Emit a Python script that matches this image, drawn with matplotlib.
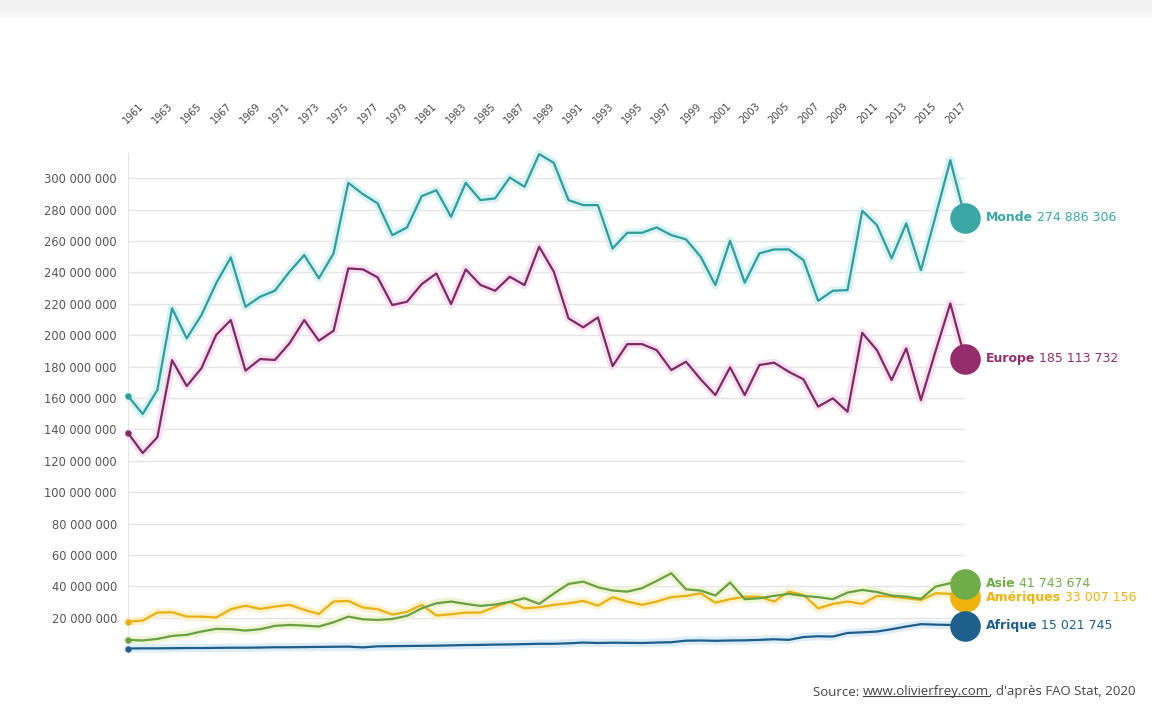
import matplotlib.pyplot as plt
from matplotlib.ticker import FuncFormatter
from matplotlib.patches import Rectangle
from matplotlib.lines import Line2D

# données (millions de tonnes), 1961 -> 2018
years = list(range(1961, 2019))

monde = [161.3, 149.8, 165.1, 217.1, 198.0, 212.8, 233.0, 249.5, 218.1, 224.5,
         228.3, 240.4, 251.0, 236.2, 252.1, 297.0, 289.8, 283.9, 263.7, 268.6,
         288.5, 292.3, 275.4, 297.0, 286.0, 287.1, 300.4, 294.5, 315.3, 309.7,
         286.0, 282.8, 282.8, 255.2, 265.2, 265.2, 268.6, 263.7, 261.0, 249.9,
         231.9, 260.1, 233.4, 252.1, 254.6, 254.6, 247.8, 221.9, 228.3, 228.7,
         279.2, 270.1, 248.9, 271.2, 241.4, 276.0, 311.4, 274.886306]

europe = [137.7, 125.0, 135.0, 184.1, 167.6, 178.9, 200.1, 209.6, 177.4, 184.8,
          184.2, 194.8, 209.6, 196.5, 202.8, 242.5, 241.9, 236.8, 219.2, 221.3,
          232.5, 239.3, 219.8, 241.9, 232.0, 228.3, 237.2, 231.9, 256.3, 240.4,
          210.7, 205.0, 211.3, 180.3, 194.3, 194.3, 190.5, 177.8, 183.1, 171.9,
          161.9, 179.5, 161.9, 181.0, 182.5, 176.7, 171.9, 154.5, 159.8, 151.3,
          201.5, 190.5, 171.4, 191.6, 158.7, 190.0, 220.2, 185.113732]

asie = [6.0, 5.6, 6.6, 8.5, 9.2, 11.3, 13.0, 12.8, 11.9, 12.8,
        14.9, 15.5, 15.1, 14.5, 17.2, 20.8, 19.1, 18.7, 19.3, 21.3,
        26.1, 29.3, 30.4, 28.9, 27.6, 28.5, 30.2, 32.5, 28.9, 35.5,
        41.6, 43.1, 39.5, 37.4, 36.7, 38.9, 43.5, 48.4, 38.2, 37.4,
        34.2, 42.5, 31.9, 32.5, 34.0, 35.3, 34.0, 33.2, 31.9, 36.1,
        37.8, 36.5, 34.2, 33.5, 32.1, 39.9, 42.1, 41.743674]

ameriques = [17.6, 18.3, 23.4, 23.6, 20.8, 20.8, 20.2, 25.5, 27.8, 25.7,
             27.2, 28.3, 25.1, 22.5, 30.4, 30.8, 26.6, 25.5, 22.1, 23.8,
             28.3, 21.5, 22.3, 23.4, 23.4, 27.0, 30.2, 26.1, 26.8, 28.3,
             29.3, 30.8, 27.8, 33.2, 30.4, 28.3, 30.4, 33.2, 34.0, 35.7,
             29.7, 31.9, 33.5, 33.5, 30.4, 36.7, 34.6, 26.1, 28.9, 30.4,
             28.9, 34.0, 33.5, 32.5, 31.4, 35.7, 35.3, 33.007156]

afrique = [0.5, 0.6, 0.6, 0.7, 0.8, 0.8, 0.9, 1.0, 1.0, 1.1,
           1.3, 1.3, 1.4, 1.5, 1.6, 1.7, 1.2, 1.9, 2.0, 2.1,
           2.2, 2.3, 2.5, 2.7, 2.8, 3.0, 3.1, 3.3, 3.5, 3.5,
           3.8, 4.3, 4.0, 4.2, 4.1, 4.0, 4.3, 4.5, 5.5, 5.6,
           5.4, 5.6, 5.7, 6.0, 6.4, 6.0, 7.8, 8.3, 8.1, 10.4,
           10.8, 11.3, 12.8, 14.5, 16.0, 15.7, 15.5, 15.021745]

# nom, valeurs, couleur ligne, halo, couleur point/texte
series = [
    ("Monde", monde, "#2f9e9c", "#d8f1f2", "#3aa7a5"),
    ("Europe", europe, "#7e2b62", "#f6dff0", "#952c6b"),
    ("Amériques", ameriques, "#e9b012", "#fcf1c8", "#f0b20c"),
    ("Asie", asie, "#6a9f43", "#edf5d4", "#70ad48"),
    ("Afrique", afrique, "#1f5d8a", "#dcedf7", "#1f5f8e"),
]

year_ticks = list(range(1961, 2018, 2))
y_ticks = list(range(20, 301, 20))


def fmt_int(v):
    return f"{int(round(v)):,}".replace(",", " ")


fig = plt.figure(figsize=(11.52, 7.11), dpi=100)
fig.patch.set_facecolor("white")

# fond type "carte"
fig.patches.append(Rectangle((0, 698 / 711), 1, 13 / 711, transform=fig.transFigure,
                             facecolor="#f1f1f1", edgecolor="none", zorder=0))
fig.patches.append(Rectangle((0, 694 / 711), 1, 4 / 711, transform=fig.transFigure,
                             facecolor="#f8f8f8", edgecolor="none", zorder=0))

ax = fig.add_axes([128 / 1152, 57 / 711, 837 / 1152, 501 / 711])
ax.set_xlim(1961, 2018)
ax.set_ylim(-3, 316)

for name, vals, lc, gc, dc in series:
    ax.plot(years, vals, color=gc, lw=6, solid_capstyle="round",
            solid_joinstyle="round", zorder=2, clip_on=False)
for name, vals, lc, gc, dc in series:
    ax.plot(years, vals, color=lc, lw=1.6, solid_joinstyle="round", zorder=3,
            clip_on=False)
    ax.plot(years[0], vals[0], "o", color=lc, ms=3.5, zorder=3, clip_on=False)
    ax.plot(years[-1], vals[-1], "o", color=dc, ms=21, zorder=4, clip_on=False)

# étiquettes à droite
for name, vals, lc, gc, dc in series:
    t1 = ax.annotate(name, xy=(years[-1], vals[-1]), xytext=(15, 0),
                     textcoords="offset points", ha="left", va="center",
                     fontsize=9, fontweight="bold", color=dc, annotation_clip=False)
    ax.annotate(" " + fmt_int(vals[-1] * 1e6), xy=(1, 0), xycoords=t1,
                ha="left", va="bottom", fontsize=9, color=dc)

ax.set_yticks(y_ticks)
ax.yaxis.set_major_formatter(FuncFormatter(lambda v, p: fmt_int(v * 1e6)))
ax.grid(axis="y", color="#e4e4e4", lw=1)
ax.set_axisbelow(True)

ax.set_xticks(year_ticks)
ax.xaxis.tick_top()
ax.tick_params(axis="x", length=0, pad=20, labelsize=7, labelcolor="#444444")
ax.tick_params(axis="y", length=0, pad=8, labelsize=8.3, labelcolor="#555555")
for lab in ax.get_xticklabels():
    lab.set_rotation(45)
    lab.set_rotation_mode("anchor")
    lab.set_ha("left")
    lab.set_va("bottom")

for s in ["top", "right", "bottom"]:
    ax.spines[s].set_visible(False)
ax.spines["left"].set_color("#e6e6e6")

# source
s1 = fig.text(813 / 1152, 1 - 692 / 711, "Source: ", fontsize=9.5,
              color="#444444", family="Open Sans", va="center")
s2 = ax.annotate("www.olivierfrey.com", xy=(1, 0), xycoords=s1, ha="left",
                 va="bottom", fontsize=9.5, color="#444444", family="Open Sans")
ax.annotate(", d'après FAO Stat, 2020", xy=(1, 0), xycoords=s2, ha="left",
            va="bottom", fontsize=9.5, color="#444444", family="Open Sans")

fig.canvas.draw()
bb = s2.get_window_extent()
inv = fig.transFigure.inverted()
(x0, y0), (x1, _) = inv.transform([(bb.x0, bb.y0 + 3), (bb.x1, bb.y0 + 3)])
fig.lines.append(Line2D([x0, x1], [y0, y0], transform=fig.transFigure,
                        color="#444444", lw=0.8))

fig.savefig("out.png", dpi=100)
